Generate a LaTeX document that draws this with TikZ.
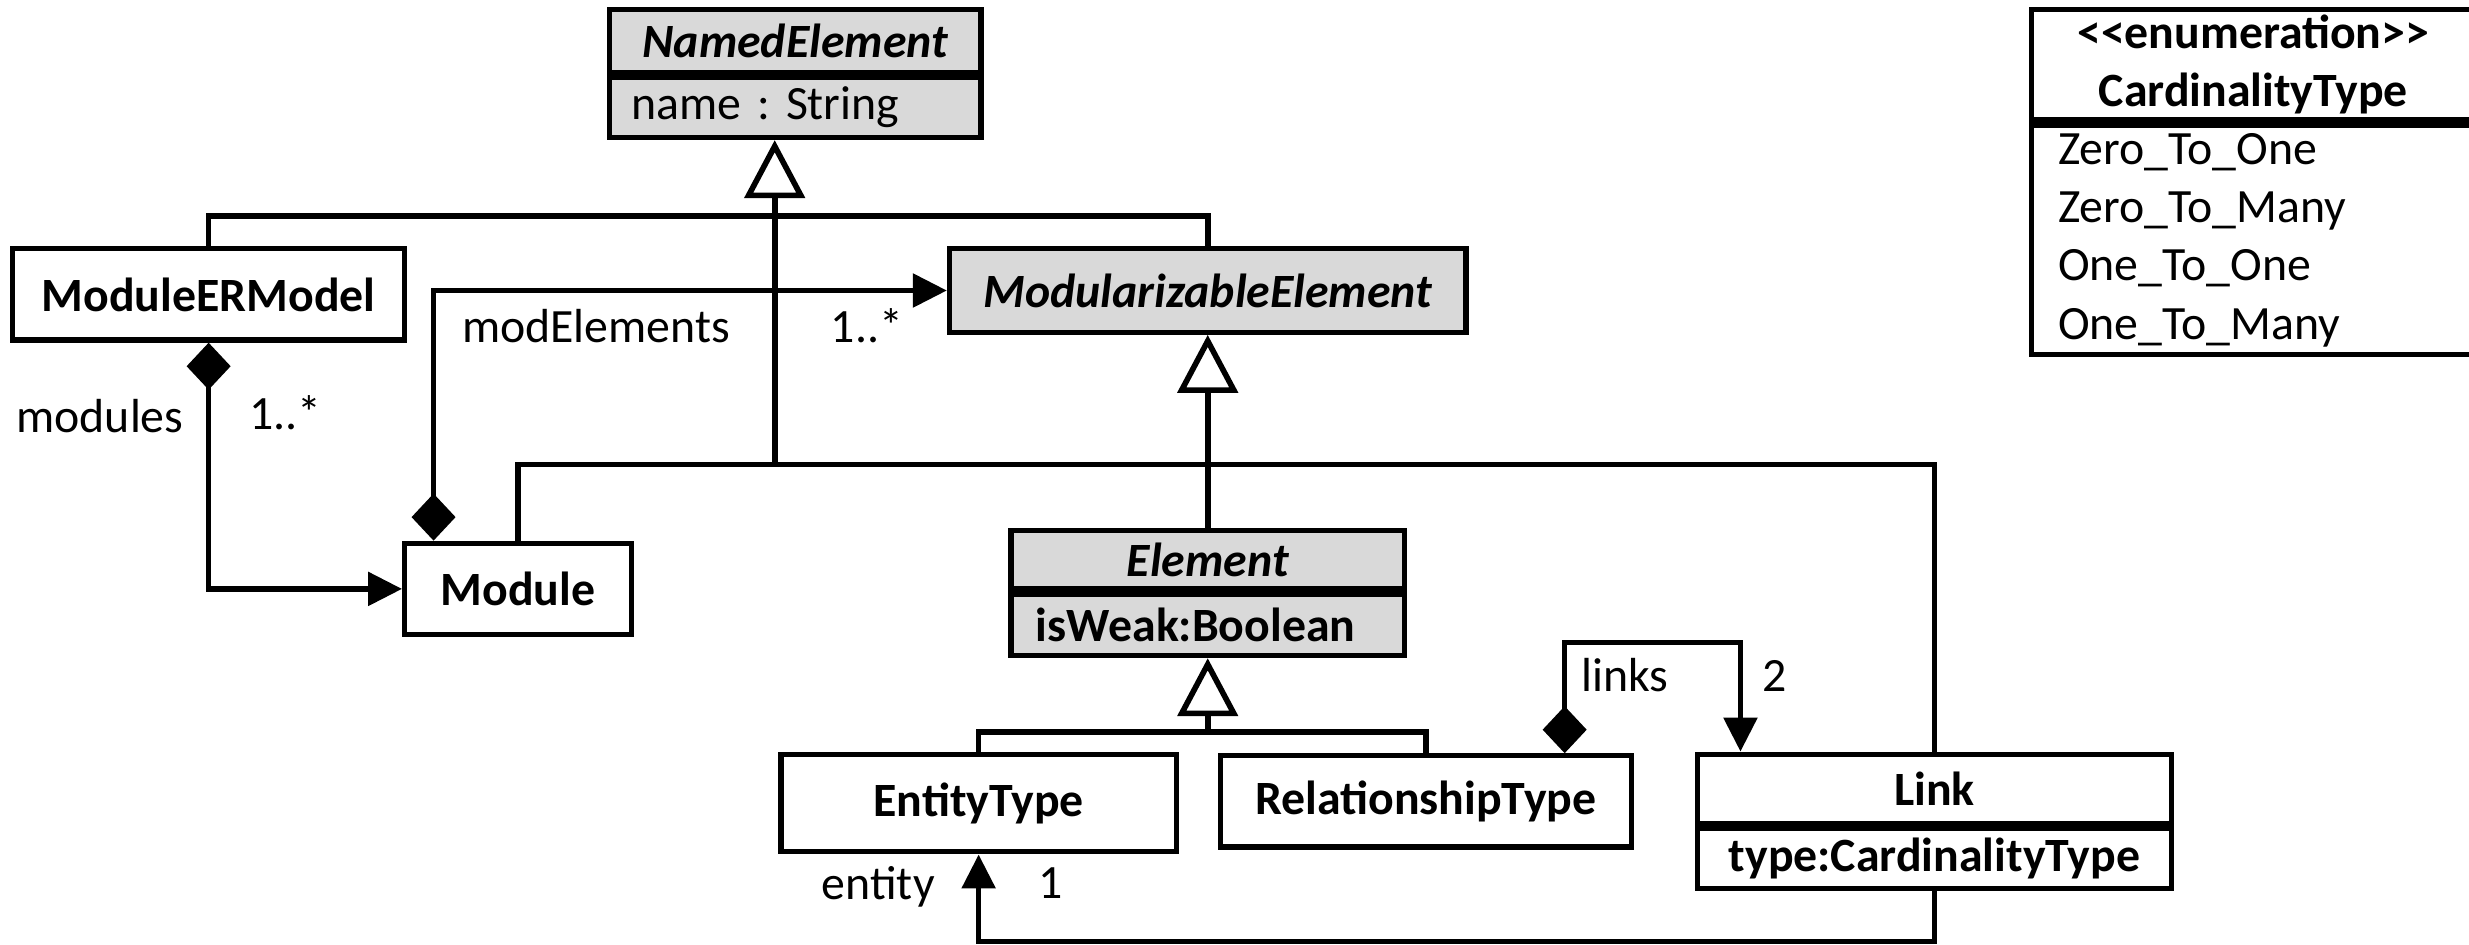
\documentclass[tikz,border=0pt]{standalone}
\usepackage{fontspec}
\setmainfont{Carlito}
\usetikzlibrary{arrows.meta,positioning,calc}
\definecolor{umlgray}{HTML}{D9D9D9}
\newcommand{\umlsize}{\fontsize{13.6}{16.6}\selectfont\frenchspacing}

\tikzset{
    umlclass/.style={draw, line width=1.5pt, inner sep=0pt, font=\umlsize\bfseries},
    umlabstract/.style={umlclass, fill=umlgray, font=\umlsize\bfseries\itshape},
    umlattr/.style={draw, line width=1.5pt, inner ysep=0pt, align=left, font=\umlsize},
    gen/.style={line width=1.6pt, -{Triangle[open, length=0.58cm, width=0.6cm]}},
    comp/.style={line width=1.6pt, {Diamond[length=0.47cm, width=0.44cm]}-{Triangle[length=0.34cm, width=0.33cm]}},
    assoc/.style={line width=1.6pt, -{Triangle[length=0.34cm, width=0.33cm]}},
    plain/.style={line width=1.6pt},
    role/.style={inner sep=0pt, font=\umlsize}
}

\begin{document}
\begin{tikzpicture}[x=0.015746cm, y=-0.015746cm]
    \useasboundingbox (0,0) rectangle (1568,600);

    % Classes
    \node[umlabstract, minimum width=3.716cm, minimum height=0.63cm] (ne) at (505,26) {NamedElement};
    \node[umlattr, fill=umlgray, inner xsep=0.22cm, text width=3.276cm, minimum height=0.598cm,
        below=0pt of ne] (neattr) {name : String};

    \node[umlclass, minimum width=3.921cm, minimum height=0.913cm] (mer) at (132.5,187) {ModuleERModel};
    \node[umlabstract, minimum width=5.165cm, minimum height=0.835cm] (mel) at (767,184.5) {ModularizableElement};
    \node[umlclass, minimum width=2.267cm, minimum height=0.913cm] (mod) at (329,374) {Module};

    \node[umlabstract, minimum width=3.937cm, minimum height=0.583cm] (el) at (767,355.5) {Element};
    \node[umlattr, fill=umlgray, font=\umlsize\bfseries, inner xsep=0.25cm, text width=3.437cm,
        minimum height=0.614cm, below=0pt of el] (elattr) {isWeak:Boolean};

    \node[umlclass, minimum width=3.952cm, minimum height=0.976cm] (et) at (621.5,510) {EntityType};
    \node[umlclass, minimum width=4.11cm, minimum height=0.913cm] (rt) at (905.5,509) {RelationshipType};

    \node[umlclass, minimum width=4.74cm, minimum height=0.693cm] (lnk) at (1228.5,501) {Link};
    \node[umlclass, minimum width=4.74cm, minimum height=0.598cm, below=0pt of lnk] (lnkattr) {type:CardinalityType};

    % Enumeration
    \node[umlclass, align=center, minimum width=4.44cm, minimum height=1.102cm] (enum) at (1431,41)
        {<\kern0pt<enumeration>\kern0pt>\\CardinalityType};
    \node[umlattr, inner xsep=0.268cm, text width=3.904cm, minimum height=2.299cm, below=0pt of enum] (enumlit)
        {Zero\_To\_One\\Zero\_To\_Many\\One\_To\_One\\One\_To\_Many};

    % Generalizations
    \coordinate (busA) at (492,137);
    \coordinate (busB) at (492,295);
    \coordinate (busC) at (767,465);
    \draw[plain] (mer.north) |- (busA) -| (mel.north);
    \draw[plain] (mod.north) |- (busB) -| (lnk.north);
    \draw[gen] (busB) -- (busB |- neattr.south);
    \draw[gen] (el.north) -- (mel.south);
    \draw[plain] (et.north) |- (busC) -| (rt.north);
    \draw[gen] (busC) -- (elattr.south);

    % Associations
    \draw[comp] (mer.south) |- (mod.west);
    \draw[comp] ($(mod.north west)+(20,0)$) |- (mel.west);
    \coordinate (linkup) at (1050,408);
    \draw[comp] ($(rt.north east)+(-44,0)$) |- (linkup) -| ($(lnk.north west)+(29,0)$);
    \coordinate (linkdown) at (900,598);
    \draw[assoc] (lnkattr.south) |- (linkdown) -| (et.south);

    % Roles and multiplicities
    \node[role, anchor=east] (modulesl) at (117,264) {modules};
    \node[role, anchor=west] (modulesm) at (158,262) {1..*};
    \node[role, anchor=west] (modell) at (293,207) {modElements};
    \node[role, anchor=east] (modelm) at (574,207) {1..*};
    \node[role, anchor=west] (linksl) at (1004,429) {links};
    \node[role, anchor=west] (linksm) at (1119,429) {2};
    \node[role, anchor=east] (entityl) at (594,563) {entity};
    \node[role, anchor=west] (entitym) at (659,561) {1};
\end{tikzpicture}
\end{document}
